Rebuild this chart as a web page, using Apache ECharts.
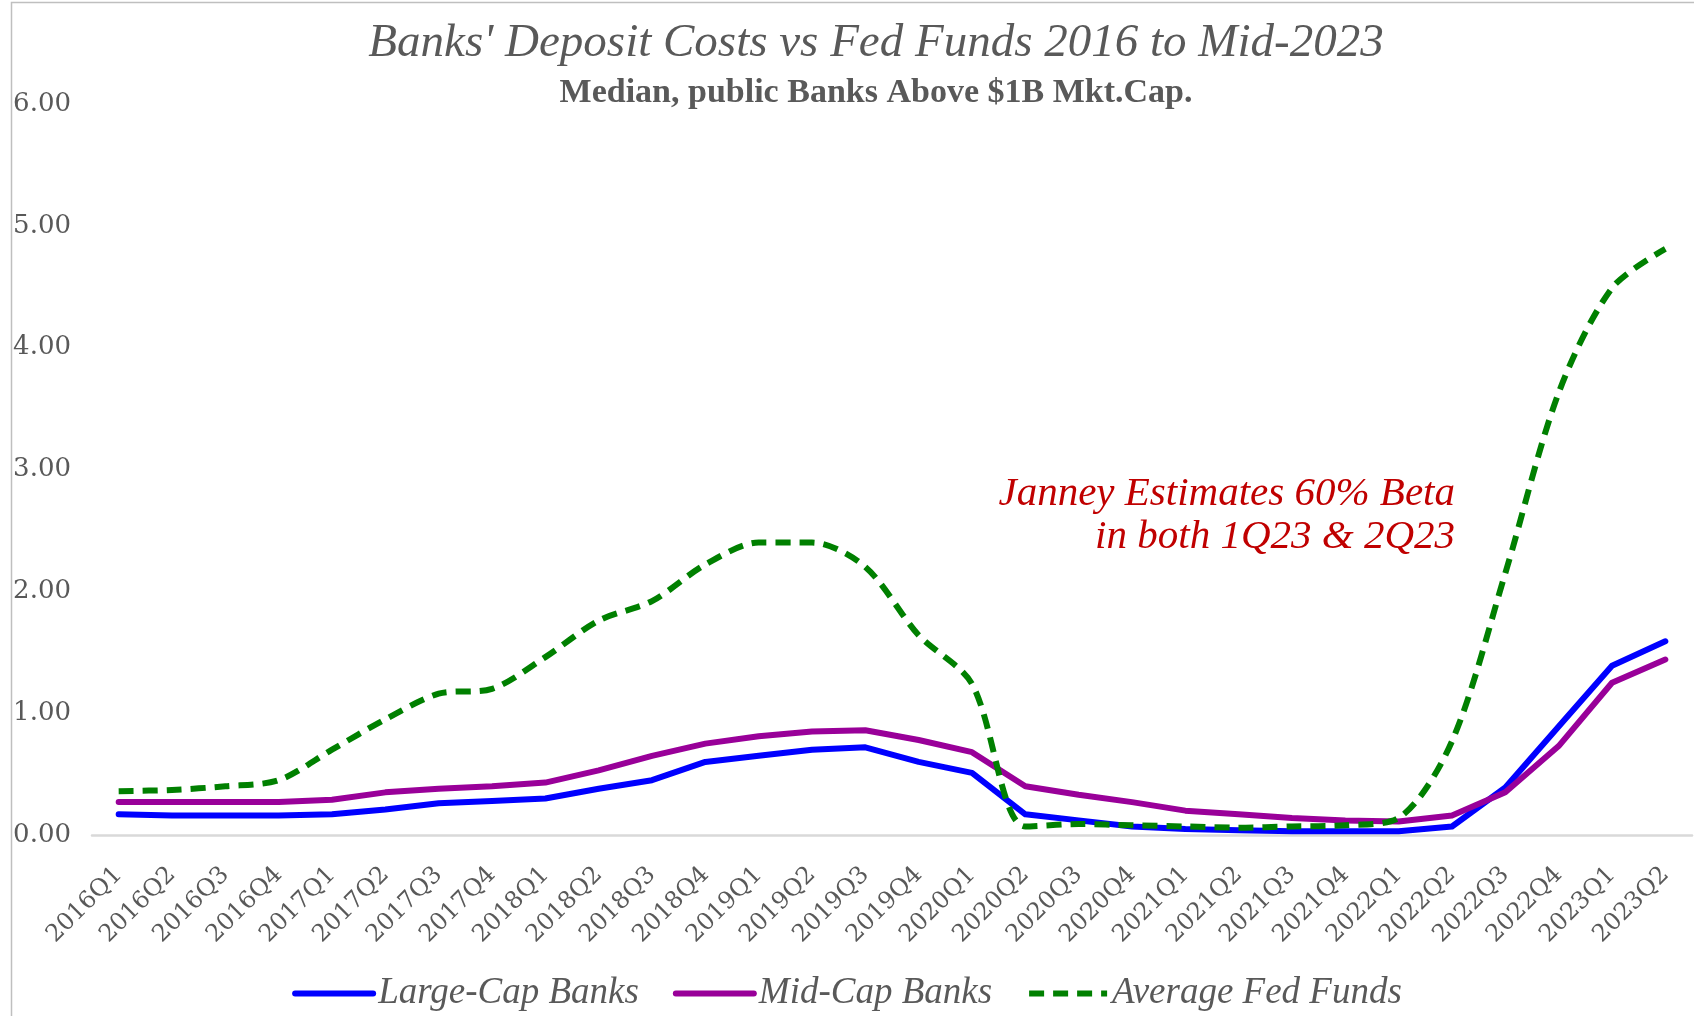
<!DOCTYPE html>
<html>
<head>
<meta charset="utf-8">
<script src="https://cdn.jsdelivr.net/npm/echarts@6/dist/echarts.min.js"></script>
<style>
  html, body { margin: 0; padding: 0; background: #fff; }
  #chart { width: 1694px; height: 1016px; }
</style>
</head>
<body>
<div id="chart"></div>
<script>
// quarters on the x axis
const quarters = [
  "2016Q1", "2016Q2", "2016Q3", "2016Q4", "2017Q1", "2017Q2", "2017Q3", "2017Q4",
  "2018Q1", "2018Q2", "2018Q3", "2018Q4", "2019Q1", "2019Q2", "2019Q3", "2019Q4",
  "2020Q1", "2020Q2", "2020Q3", "2020Q4", "2021Q1", "2021Q2", "2021Q3", "2021Q4",
  "2022Q1", "2022Q2", "2022Q3", "2022Q4", "2023Q1", "2023Q2"
];

// deposit costs, %
const largeCap = [
  0.17, 0.16, 0.16, 0.16, 0.17, 0.21, 0.26, 0.28, 0.30, 0.38, 0.45, 0.60, 0.65, 0.70, 0.72,
  0.60, 0.51, 0.17, 0.12, 0.07, 0.05, 0.04, 0.03, 0.03, 0.03, 0.07, 0.39, 0.89, 1.39, 1.59
];
const midCap = [
  0.27, 0.27, 0.27, 0.27, 0.29, 0.35, 0.38, 0.40, 0.43, 0.53, 0.65, 0.75, 0.81, 0.85, 0.86,
  0.78, 0.68, 0.40, 0.33, 0.27, 0.20, 0.17, 0.14, 0.12, 0.11, 0.16, 0.35, 0.73, 1.25, 1.44
];
const fedFunds = [
  0.36, 0.37, 0.40, 0.45, 0.70, 0.95, 1.16, 1.20, 1.46, 1.76, 1.92, 2.22, 2.40, 2.40, 2.20,
  1.64, 1.24, 0.07, 0.09, 0.08, 0.07, 0.06, 0.07, 0.08, 0.14, 0.77, 2.15, 3.63, 4.49, 4.81
];

const yTicks = [0, 1, 2, 3, 4, 5, 6];

const textGray = "#595959";
const serif = "'Liberation Serif', serif";

const chart = echarts.init(document.getElementById("chart"));

const option = {
  animation: false,
  backgroundColor: "#fff",
  title: [
    {
      text: "Banks' Deposit Costs vs Fed Funds 2016 to Mid-2023",
      left: 871,
      top: 15,
      textAlign: "center",
      textStyle: {
        fontFamily: serif,
        fontStyle: "italic",
        fontWeight: "normal",
        fontSize: 47,
        color: textGray,
      },
    },
    {
      text: "Median, public Banks Above $1B Mkt.Cap.",
      left: 871,
      top: 71,
      textAlign: "center",
      textStyle: {
        fontFamily: serif,
        fontWeight: "bold",
        fontSize: 34,
        color: textGray,
      },
    },
  ],
  legend: {
    left: "center",
    top: 970,
    itemWidth: 78,
    itemHeight: 14,
    itemGap: 34,
    lineStyle: { width: 6 },
    itemStyle: { opacity: 0 },
    textStyle: {
      fontFamily: serif,
      fontStyle: "italic",
      fontSize: 37,
      color: textGray,
    },
    data: ["Large-Cap Banks", "Mid-Cap Banks", "Average Fed Funds"],
  },
  grid: {
    left: 92,
    right: 2,
    top: 104,
    bottom: 181,
    containLabel: false,
  },
  xAxis: {
    type: "category",
    data: quarters,
    boundaryGap: true,
    axisLine: {
      lineStyle: { color: "#D9D9D9", width: 2.5 },
    },
    axisTick: { show: false },
    axisLabel: {
      interval: 0,
      rotate: 45,
      margin: 36,
      fontFamily: "'DejaVu Serif', serif",
      fontSize: 24,
      color: textGray,
    },
  },
  yAxis: {
    type: "value",
    min: yTicks[0],
    max: yTicks[yTicks.length - 1],
    interval: 1,
    axisLine: { show: false },
    axisTick: { show: false },
    splitLine: { show: false },
    axisLabel: {
      margin: 21,
      fontFamily: "'DejaVu Serif', serif",
      fontSize: 26,
      color: textGray,
      formatter: (v) => v.toFixed(2),
    },
  },
  series: [
    {
      name: "Large-Cap Banks",
      type: "line",
      data: largeCap,
      symbol: "none",
      lineStyle: { color: "#0000FF", width: 6, cap: "round", join: "round" },
      itemStyle: { color: "#0000FF" },
    },
    {
      name: "Mid-Cap Banks",
      type: "line",
      data: midCap,
      symbol: "none",
      lineStyle: { color: "#990099", width: 6, cap: "round", join: "round" },
      itemStyle: { color: "#990099" },
    },
    {
      name: "Average Fed Funds",
      type: "line",
      data: fedFunds,
      symbol: "none",
      smooth: 0.3,
      lineStyle: { color: "#008000", width: 6, type: [15, 9], join: "round" },
      itemStyle: { color: "#008000" },
    },
  ],
  graphic: [
    // frame edges on the left and top
    {
      type: "polyline",
      shape: { points: [[11.5, 1016], [11.5, 2.5], [1694, 2.5]] },
      style: { stroke: "#BFBFBF", lineWidth: 1.5, fill: null },
      silent: true,
    },
    {
      type: "text",
      x: 1455,
      y: 494,
      style: {
        text: "Janney Estimates 60% Beta",
        textAlign: "right",
        textVerticalAlign: "middle",
        font: "italic 41px 'Liberation Serif', serif",
        fill: "#C00000",
      },
    },
    {
      type: "text",
      x: 1455,
      y: 537,
      style: {
        text: "in both 1Q23 & 2Q23",
        textAlign: "right",
        textVerticalAlign: "middle",
        font: "italic 41px 'Liberation Serif', serif",
        fill: "#C00000",
      },
    },
  ],
};

chart.setOption(option);
</script>
</body>
</html>
